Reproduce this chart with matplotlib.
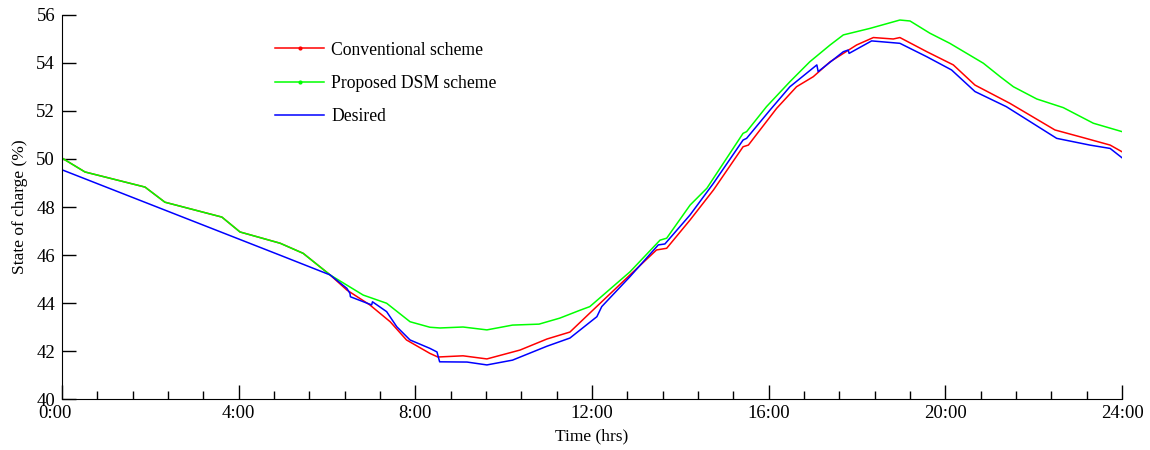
import matplotlib
matplotlib.use("Agg")
import matplotlib.pyplot as plt
import matplotlib.transforms as mtransforms
from matplotlib.ticker import MultipleLocator, FixedLocator

# ---- data (hours, state of charge %) ----
conv_t = [0, 0.52, 1.88, 2.33, 3.62, 4.03, 4.94, 5.46, 6.07, 6.45, 6.97, 7.43, 7.80,
          8.33, 8.51, 9.08, 9.62, 10.37, 10.98, 11.5, 11.95, 12.86, 13.46, 13.69, 14.22,
          14.75, 15.42, 15.54, 16.18, 16.63, 17.01, 17.39, 17.99, 18.37, 18.82, 18.97,
          19.58, 20.18, 20.67, 21.46, 22.48, 23.12, 23.73, 24.0]
conv_v = [50.04, 49.46, 48.83, 48.2, 47.58, 46.96, 46.49, 46.07, 45.17, 44.54, 43.92, 43.22, 42.46,
          41.90, 41.75, 41.8, 41.67, 42.04, 42.5, 42.79, 43.58, 45.17, 46.21, 46.28, 47.46,
          48.71, 50.51, 50.58, 52.11, 53.01, 53.43, 54.05, 54.75, 55.06, 55.0, 55.06,
          54.47, 53.92, 53.08, 52.32, 51.21, 50.89, 50.58, 50.30]

dsm_t = [0, 0.52, 1.88, 2.33, 3.62, 4.03, 4.94, 5.46, 6.07, 6.82, 7.35, 7.88, 8.33, 8.56,
         9.08, 9.62, 10.2, 10.8, 11.27, 11.73, 11.95, 12.86, 13.54, 13.69, 14.22, 14.60,
         15.42, 15.50, 15.95, 16.48, 16.93, 17.39, 17.69, 18.29, 18.97, 19.2, 19.65,
         20.10, 20.86, 21.24, 21.54, 22.07, 22.67, 23.35, 24.0]
dsm_v = [50.04, 49.46, 48.83, 48.2, 47.58, 46.96, 46.49, 46.07, 45.17, 44.33, 43.99, 43.22, 42.99, 42.96,
         43.0, 42.88, 43.08, 43.12, 43.37, 43.7, 43.85, 45.30, 46.62, 46.7, 48.08, 48.78,
         51.07, 51.14, 52.18, 53.22, 54.05, 54.75, 55.17, 55.44, 55.79, 55.75, 55.24,
         54.82, 53.99, 53.43, 53.01, 52.5, 52.14, 51.49, 51.14]

des_t = [0, 4.94, 6.07, 6.45, 6.52, 6.53, 7.01, 7.03, 7.35, 7.58, 7.88, 8.33, 8.49, 8.55,
         9.17, 9.62, 10.2, 10.98, 11.5, 12.11, 12.22, 12.86, 13.50, 13.65, 14.22, 14.75,
         15.42, 15.50, 16.03, 16.48, 17.09, 17.12, 17.69, 17.80, 17.82, 18.33, 18.97,
         19.58, 20.14, 20.67, 21.38, 22.52, 23.27, 23.73, 24.0]
des_v = [49.55, 45.99, 45.17, 44.61, 44.40, 44.26, 43.92, 44.05, 43.64, 43.01, 42.46, 42.11, 41.96, 41.55,
         41.54, 41.42, 41.62, 42.2, 42.54, 43.43, 43.85, 45.10, 46.42, 46.46, 47.67, 48.99,
         50.79, 50.86, 52.04, 53.01, 53.92, 53.64, 54.47, 54.54, 54.40, 54.92, 54.82,
         54.26, 53.71, 52.81, 52.18, 50.86, 50.58, 50.44, 50.05]

x_major = [0, 4, 8, 12, 16, 20, 24]
x_labels = ["0:00", "4:00", "8:00", "12:00", "16:00", "20:00", "24:00"]
series_labels = ["Conventional scheme", "Proposed DSM scheme", "Desired"]

plt.rcParams['font.family'] = ['Liberation Serif', 'DejaVu Serif']

fig = plt.figure(figsize=(11.5, 4.5), dpi=100)
ax = fig.add_axes([0.0539, 0.1133, 0.9218, 0.8534])

RED, GREEN, BLUE = '#ff0000', '#00ff00', '#0000ff'
ax.plot(conv_t, conv_v, color=RED, lw=1.1)
ax.plot(dsm_t, dsm_v, color=GREEN, lw=1.1)
ax.plot(des_t, des_v, color=BLUE, lw=1.1)

# legend handles
h1, = ax.plot([], [], color=RED, lw=1.1, marker='.', markersize=4)
h2, = ax.plot([], [], color=GREEN, lw=1.1, marker='.', markersize=4)
h3, = ax.plot([], [], color=BLUE, lw=1.1)
ax.legend([h1, h2, h3], series_labels, loc='upper left', bbox_to_anchor=(0.186, 0.972),
          frameon=False, fontsize=12.7, handlelength=2.8, labelspacing=0.92,
          handletextpad=0.4, numpoints=1)

ax.set_xlim(0, 24)
ax.set_ylim(40, 56)
ax.xaxis.set_major_locator(FixedLocator(x_major))
ax.set_xticklabels(x_labels)
ax.xaxis.set_minor_locator(MultipleLocator(0.8))
ax.yaxis.set_major_locator(MultipleLocator(2))

for s in ['top', 'right']:
    ax.spines[s].set_visible(False)
ax.tick_params(axis='both', which='major', direction='in', length=10, width=1,
               labelsize=13.5)
ax.tick_params(axis='x', which='major', pad=4)
ax.tick_params(axis='y', which='major', pad=5)
ax.tick_params(axis='x', which='minor', direction='in', length=6, width=1)
ax.tick_params(axis='y', which='minor', left=False)

# first x label sits slightly left of its tick in the reference
first = ax.get_xticklabels()[0]
first.set_transform(first.get_transform() +
                    mtransforms.ScaledTranslation(-7 / 100, 0, fig.dpi_scale_trans))

ax.set_xlabel("Time (hrs)", fontsize=12.5, labelpad=5)
ax.set_ylabel("State of charge (%)", fontsize=12.5, labelpad=6)

fig.savefig("out.png", dpi=100)
